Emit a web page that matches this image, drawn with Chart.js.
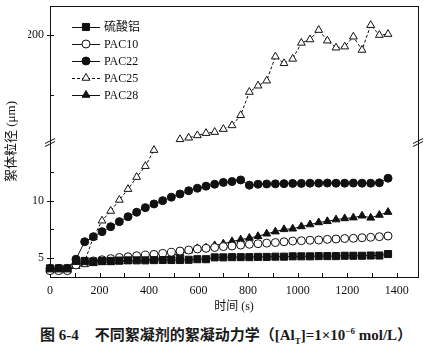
<!DOCTYPE html>
<html>
<head>
<meta charset="utf-8">
<script src="https://cdn.jsdelivr.net/npm/chart.js@4.4.0/dist/chart.umd.min.js"></script>
<style>
  html, body { margin: 0; padding: 0; background: #fff; }
  #wrap { position: relative; width: 427px; height: 354px; }
  #caption {
    position: absolute; left: 40px; top: 323px; text-align: left;
    font: bold 15px 'Liberation Serif', 'Noto Sans CJK SC', serif; color: #1a1a1a; white-space: nowrap;
  }
  #caption sub, #caption sup { font-size: 9px; }
  #caption .gap { display: inline-block; width: 16px; }
</style>
</head>
<body>
<div id="wrap">
  <canvas id="chart" width="427" height="318"></canvas>
  <div id="caption">图 6-4<span class="gap"></span>不同絮凝剂的絮凝动力学（[Al<sub>T</sub>]=1×10<sup>−6</sup> mol/L）</div>
</div>
<script>
// 时间 (s)
const times = [0, 35, 70, 105, 140, 175, 210, 245, 280, 315, 350, 385, 420, 455, 490, 525, 560, 595, 630, 665,
               700, 735, 770, 805, 840, 875, 910, 945, 980, 1015, 1050, 1085, 1120, 1155, 1190, 1225, 1260, 1295, 1330, 1365];

// 絮体粒径 (μm)
const alum = [4.1, 4.1, 4.1, 4.75, 4.75, 4.7, 4.75, 4.75, 4.78, 4.8, 4.8, 4.8, 4.82, 4.83, 4.83, 4.83, 4.85, 4.9, 4.9, 5.06,
              5.06, 5.08, 5.08, 5.08, 5.1, 5.1, 5.12, 5.12, 5.15, 5.15, 5.15, 5.17, 5.17, 5.17, 5.2, 5.2, 5.2, 5.22, 5.22, 5.35];
const pac10 = [3.9, 3.9, 3.9, 4.4, 4.6, 4.75, 4.85, 4.95, 5.05, 5.11, 5.2, 5.26, 5.32, 5.41, 5.5, 5.61, 5.7, 5.79, 5.85, 5.92,
               6.0, 6.05, 6.13, 6.2, 6.25, 6.3, 6.35, 6.42, 6.48, 6.51, 6.55, 6.57, 6.63, 6.66, 6.7, 6.72, 6.77, 6.81, 6.86, 6.92];
const pac22 = [4.1, 4.1, 4.1, 4.9, 6.42, 6.86, 7.3, 7.73, 8.17, 8.6, 8.99, 9.39, 9.71, 10.0, 10.3, 10.58, 10.86, 11.08, 11.26, 11.43,
               11.59, 11.66, 11.8, 11.35, 11.43, 11.45, 11.46, 11.48, 11.5, 11.5, 11.52, 11.52, 11.53, 11.52, 11.52, 11.53, 11.52, 11.52, 11.55, 11.95];
// PAC25 在断轴下方（小粒径）和上方（大粒径）的两段
const pac25Low = [3.9, 3.9, 3.9, 4.3, 4.7, 6.8, 8.25, 9.1, 10.06, 11.0, 12.05, 13.0, 14.4, null, null, null, null, null, null, null,
                  null, null, null, null, null, null, null, null, null, null, null, null, null, null, null, null, null, null, null, null];
const pac25High = [null, null, null, null, null, null, null, null, null, null, null, null, null, null, null, 112.5, 113.8, 115.8, 117.7, 118.6,
                   121.1, 124.2, 132.7, 152.2, 157.5, 161.7, 181.9, 176.3, 180, 193.4, 196.3, 204.2, 195.3, 189.4, 190.3, 198.6, 187.5, 208.3, 200, 200.8];
const pac28 = [4.0, 4.0, 4.0, 4.3, 4.45, 4.54, 4.62, 4.62, 4.68, 4.74, 4.8, 4.83, 4.91, 5.03, 5.2, 5.41, 5.64, 5.85, 5.9, 6.1,
               6.25, 6.45, 6.6, 6.75, 6.9, 7.12, 7.3, 7.5, 7.55, 7.75, 7.92, 8.1, 8.2, 8.35, 8.45, 8.52, 8.68, 8.5, 8.75, 9.0];

const serif = "'Liberation Serif', 'Noto Sans CJK SC', serif";
const ink = '#111';

function makeSet(label, values, style, filled, axis, dashed) {
    return {
        label: label,
        data: times.map((t, i) => ({ x: t, y: values[i] })),
        yAxisID: axis,
        borderColor: ink,
        borderWidth: 1,
        borderDash: dashed ? [3, 2] : [],
        pointStyle: style,
        pointRadius: style === 'rect' ? 5 : (style === 'triangle' ? 4.5 : 4),
        pointBackgroundColor: filled ? ink : '#fff',
        pointBorderColor: ink,
        pointBorderWidth: 1,
        fill: false,
        tension: 0,
        spanGaps: false,
        clip: false
    };
}

// 固定坐标轴占位，去掉刻度文字带来的额外边距
function fixBox(w, h) {
    return s => {
        if (w) s.width = w;
        if (h) s.height = h;
        s.paddingTop = 0; s.paddingBottom = 0; s.paddingLeft = 0; s.paddingRight = 0;
    };
}

// 坐标框、向内刻度、断轴标记和图例
const framePlugin = {
    id: 'frame',
    beforeDatasetsDraw(chart) {
        const { ctx, chartArea: a, scales } = chart;
        const line = (x1, y1, x2, y2) => { ctx.beginPath(); ctx.moveTo(x1, y1); ctx.lineTo(x2, y2); ctx.stroke(); };
        ctx.save();
        ctx.strokeStyle = ink;
        ctx.lineWidth = 1;
        ctx.strokeRect(a.left + 0.5, a.top + 0.5, a.right - a.left, a.bottom - a.top);
        scales.x.ticks.forEach(t => {
            const px = Math.round(scales.x.getPixelForValue(t.value)) + 0.5;
            line(px, a.bottom, px, a.bottom - 4);
        });
        [scales.y, scales.y2].forEach(s => {
            s.ticks.forEach(t => {
                const py = Math.round(s.getPixelForValue(t.value)) + 0.5;
                if (py < s.top + 5 || py > s.bottom - 2) return;
                if (t.label !== '') line(a.left - 3, py, a.left + 4, py);
                else line(a.left, py, a.left + 4, py);
            });
        });
        // 断轴
        const yb = scales.y.top;
        [a.left, a.right].forEach(x => {
            line(x - 5, yb + 2, x + 5, yb - 3);
            line(x - 5, yb + 5, x + 5, yb);
        });
        ctx.restore();
    },
    afterDraw(chart) {
        const { ctx, chartArea: a } = chart;
        const entries = [0, 1, 2, 3, 5];
        ctx.save();
        entries.forEach((di, k) => {
            const ds = chart.data.datasets[di];
            const y = a.top + 21 + k * 17;
            const x0 = a.left + 22, x1 = a.left + 50, xm = a.left + 36;
            ctx.strokeStyle = ink;
            ctx.lineWidth = 1;
            ctx.setLineDash(ds.borderDash);
            ctx.beginPath(); ctx.moveTo(x0, y + 0.5); ctx.lineTo(x1, y + 0.5); ctx.stroke();
            ctx.setLineDash([]);
            ctx.fillStyle = ds.pointBackgroundColor;
            Chart.helpers.drawPoint(ctx, { pointStyle: ds.pointStyle, radius: ds.pointRadius, rotation: 0, borderWidth: 1 }, xm, y);
            ctx.fillStyle = ink;
            ctx.font = '12px ' + serif;
            ctx.textBaseline = 'middle';
            ctx.fillText(ds.label, a.left + 54, y + 1);
        });
        ctx.restore();
    }
};

new Chart(document.getElementById('chart'), {
    type: 'line',
    data: {
        datasets: [
            makeSet('硫酸铝', alum, 'rect', true, 'y', false),
            makeSet('PAC10', pac10, 'circle', false, 'y', false),
            makeSet('PAC22', pac22, 'circle', true, 'y', false),
            makeSet('PAC25', pac25Low, 'triangle', false, 'y', true),
            makeSet('PAC25', pac25High, 'triangle', false, 'y2', true),
            makeSet('PAC28', pac28, 'triangle', true, 'y', false)
        ]
    },
    options: {
        responsive: false,
        devicePixelRatio: 1,
        animation: false,
        layout: { padding: { left: 0, right: 9, top: 4, bottom: 3 } },
        plugins: { legend: { display: false }, tooltip: { enabled: false } },
        scales: {
            x: {
                type: 'linear', min: 0, max: 1486,
                grid: { display: false, drawTicks: false },
                border: { display: false },
                ticks: {
                    stepSize: 100, includeBounds: false, autoSkip: false, maxRotation: 0, padding: 7,
                    color: ink, font: { family: serif, size: 12 },
                    callback: v => (v % 200 === 0 ? String(v) : '')
                },
                title: { display: true, text: '时间 (s)', color: ink, font: { family: serif, size: 12 }, padding: { top: 2, bottom: 1 } },
                afterFit: fixBox(0, 38)
            },
            y: {
                type: 'linear', position: 'left', stack: 'broken', stackWeight: 1,
                min: 3.35, max: 15.15,
                grid: { display: false, drawTicks: false },
                border: { display: false },
                ticks: {
                    stepSize: 2.5, includeBounds: false, padding: 6,
                    color: ink, font: { family: serif, size: 12 },
                    callback: v => (v % 5 === 0 && v < 15 ? String(v) : '')
                },
                afterFit: fixBox(22, 0)
            },
            y2: {
                type: 'linear', position: 'left', stack: 'broken', stackWeight: 1,
                min: 110.7, max: 224.4,
                grid: { display: false, drawTicks: false },
                border: { display: false },
                ticks: {
                    stepSize: 50, includeBounds: false, padding: 6,
                    color: ink, font: { family: serif, size: 12 },
                    callback: v => (v % 100 === 0 ? String(v) : '')
                },
                afterFit: fixBox(22, 0)
            },
            yt: {
                type: 'linear', position: 'left', weight: 1,
                grid: { display: false, drawTicks: false },
                border: { display: false },
                ticks: { display: false },
                title: { display: true, text: '絮体粒径 (μm)', color: ink, font: { family: serif, size: 13 }, padding: { top: 4, bottom: 0 } },
                afterFit: fixBox(28, 0)
            }
        }
    },
    plugins: [framePlugin]
});
</script>
</body>
</html>
